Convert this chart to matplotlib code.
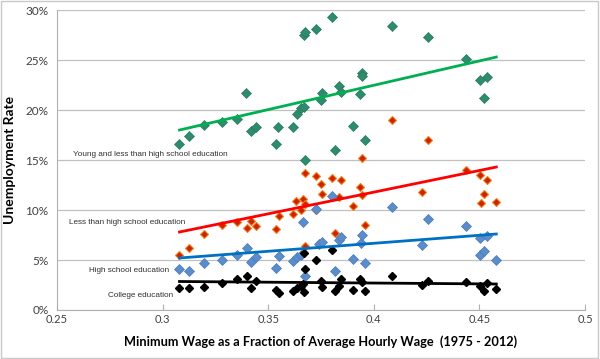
import matplotlib
matplotlib.use("Agg")
import matplotlib.pyplot as plt
from matplotlib.patches import Rectangle
from matplotlib.ticker import FuncFormatter

# minimum wage / average hourly wage, unemployment rate (%) per group
young_x = [0.308, 0.3125, 0.3196, 0.328, 0.335, 0.3396, 0.342, 0.344, 0.3537, 0.3546,
           0.3617, 0.3636, 0.3655, 0.367, 0.3674, 0.367, 0.3675, 0.3726, 0.375, 0.3755,
           0.3802, 0.3816, 0.3835, 0.3845, 0.390, 0.3935, 0.3944, 0.3946, 0.3958, 0.4086,
           0.4257, 0.4437, 0.4503, 0.4536, 0.4522]
young_y = [16.6, 17.4, 18.5, 18.8, 19.1, 21.7, 17.9, 18.3, 16.6, 18.3,
           18.3, 19.6, 20.2, 20.3, 15.0, 27.5, 27.8, 28.1, 21.0, 21.7,
           29.3, 16.0, 22.4, 21.8, 18.4, 21.6, 23.7, 23.4, 17.0, 28.4,
           27.3, 25.1, 23.0, 23.3, 21.2]

less_x = [0.3078, 0.3125, 0.3196, 0.328, 0.335, 0.3398, 0.342, 0.344, 0.3537, 0.355,
          0.3617, 0.363, 0.3655, 0.3665, 0.3674, 0.3674, 0.3674, 0.3726, 0.3726, 0.375,
          0.3755, 0.380, 0.3816, 0.3835, 0.3845, 0.390, 0.3935, 0.3944, 0.3944, 0.3958,
          0.4086, 0.4228, 0.4257, 0.4437, 0.4503, 0.4508, 0.4522, 0.4536, 0.4579]
less_y = [5.5, 6.2, 7.6, 8.5, 8.8, 8.2, 8.9, 8.4, 8.1, 9.4,
          9.6, 10.9, 10.0, 11.1, 10.6, 6.4, 13.7, 13.4, 10.0, 12.6,
          11.6, 13.2, 7.7, 11.3, 13.0, 10.4, 12.3, 11.5, 15.2, 8.5,
          19.0, 11.8, 17.0, 14.0, 13.5, 10.7, 11.6, 13.0, 10.8]

hs_x = [0.3078, 0.3125, 0.3196, 0.328, 0.335, 0.3398, 0.342, 0.344, 0.3537, 0.355,
        0.3617, 0.3636, 0.3655, 0.3665, 0.3674, 0.3726, 0.374, 0.3755, 0.380, 0.3816,
        0.3835, 0.3845, 0.390, 0.394, 0.3944, 0.3958, 0.4086, 0.4228, 0.4257, 0.4437,
        0.4503, 0.4536, 0.4503, 0.4522, 0.4579]
hs_y = [4.1, 3.9, 4.7, 5.0, 5.5, 6.2, 4.8, 5.3, 4.2, 5.4,
        4.9, 5.3, 5.5, 8.8, 3.4, 10.1, 6.6, 6.8, 11.4, 3.9,
        7.0, 7.3, 5.1, 6.7, 7.5, 4.7, 10.3, 6.5, 9.1, 8.4,
        7.2, 7.4, 5.5, 5.9, 5.0]

col_x = [0.3078, 0.3125, 0.3196, 0.328, 0.335, 0.3398, 0.342, 0.344, 0.3537, 0.355,
         0.3617, 0.3636, 0.3655, 0.3665, 0.367, 0.3674, 0.367, 0.3726, 0.375, 0.3755,
         0.380, 0.3816, 0.3835, 0.3845, 0.390, 0.3935, 0.3944, 0.3958, 0.4086, 0.4228,
         0.4257, 0.4437, 0.4503, 0.4522, 0.4536, 0.4579]
col_y = [2.2, 2.2, 2.3, 2.7, 3.1, 3.4, 2.2, 2.9, 2.0, 1.7,
         1.9, 2.2, 2.4, 2.6, 1.8, 4.1, 5.7, 5.0, 2.9, 2.3,
         6.0, 1.9, 2.4, 3.1, 2.0, 3.1, 2.8, 1.9, 3.4, 2.5,
         2.9, 2.8, 2.4, 1.9, 2.7, 2.1]

# linear trend lines as drawn in the original (start, end)
trend_x = [0.308, 0.458]
young_trend = [18.0, 25.3]
less_trend = [7.8, 14.3]
hs_trend = [5.2, 7.6]
col_trend = [2.85, 2.6]

x_ticks = [0.25, 0.3, 0.35, 0.4, 0.45, 0.5]
x_tick_labels = ["0.25", "0.3", "0.35", "0.4", "0.45", "0.5"]
y_ticks = [0, 5, 10, 15, 20, 25, 30]

fig = plt.figure(figsize=(6.0, 3.59), dpi=100)
ax = fig.add_axes([0.095, 0.1365, 0.88, 0.8355])

ax.set_xlim(0.25, 0.5)
ax.set_ylim(0, 30)

ax.plot(young_x, young_y, "D", ms=5.5, color="#2e8b6e", mec="#2a7a60", mew=0.5, zorder=3)
ax.plot(less_x, less_y, "D", ms=4, color="#cc2200", mec="#f08020", mew=0.8, zorder=3)
ax.plot(hs_x, hs_y, "D", ms=5.5, color="#5b8dcb", mec="#4a7ab8", mew=0.5, zorder=3)
ax.plot(col_x, col_y, "D", ms=4, color="black", zorder=3)

ax.plot(trend_x, young_trend, color="#00b050", lw=2, zorder=4)
ax.plot(trend_x, less_trend, color="#ff0000", lw=2, zorder=4)
ax.plot(trend_x, hs_trend, color="#0070c0", lw=2, zorder=4)
ax.plot(trend_x, col_trend, color="black", lw=2, zorder=4)

ax.set_xticks(x_ticks)
ax.set_xticklabels(x_tick_labels)
ax.set_yticks(y_ticks)
ax.yaxis.set_major_formatter(FuncFormatter(lambda v, _: f"{v:.0f}%"))
ax.grid(axis="y", color="#c0c0c0", lw=0.9)
ax.set_axisbelow(True)
for side in ["top", "right"]:
    ax.spines[side].set_visible(False)
for side in ["left", "bottom"]:
    ax.spines[side].set_color("#b0b0b0")
ax.tick_params(axis="x", length=4, color="#b0b0b0", labelsize=8, pad=3, direction="in")
ax.tick_params(axis="y", length=0, labelsize=8.5, pad=6)
for lbl in ax.get_xticklabels() + ax.get_yticklabels():
    lbl.set_family("Lato")
    lbl.set_color("#404040")

ax.set_xlabel("Minimum Wage as a Fraction of Average Hourly Wage  (1975 - 2012)",
              fontsize=9.2, fontweight="bold", family="Lato", labelpad=7)
ax.set_ylabel("Unemployment Rate", fontsize=10, fontweight="bold", family="Lato", labelpad=7)

note_kw = dict(fontsize=5.9, family="Liberation Sans", color="#303030", va="center")
ax.text(0.2576, 15.6, "Young and less than high school education", **note_kw)
ax.text(0.2557, 8.75, "Less than high school education", **note_kw)
ax.text(0.2652, 4.0, "High school education", **note_kw)
ax.text(0.2742, 1.45, "College education", **note_kw)

fig.patches.append(Rectangle((0.002, 0.003), 0.995, 0.993, transform=fig.transFigure,
                             fill=False, edgecolor="#c8c8c8", lw=1))

fig.savefig("out.png", dpi=100)
